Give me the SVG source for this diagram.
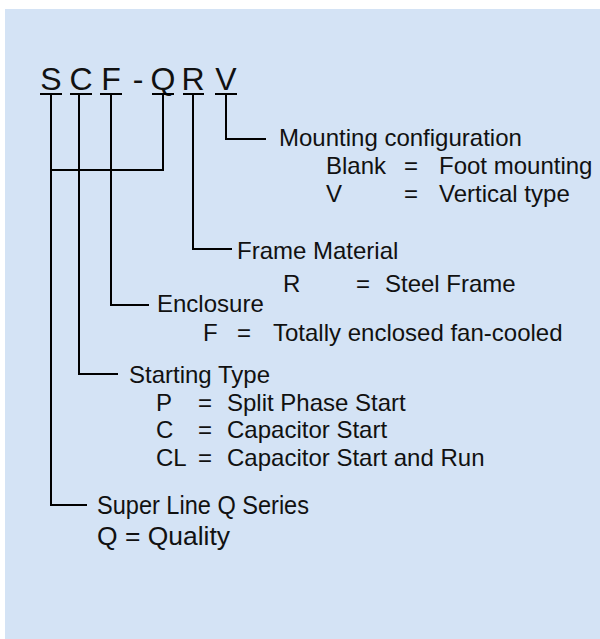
<svg xmlns="http://www.w3.org/2000/svg" width="600" height="639" viewBox="0 0 600 639">
<style>
.t{font-family:"Liberation Sans",Arial,sans-serif;font-size:24px;fill:#111}
.code{font-family:"Liberation Sans",Arial,sans-serif;font-size:32px;fill:#111;text-anchor:middle}
.big{font-family:"Liberation Sans",Arial,sans-serif;font-size:26px;fill:#111}
.ln{fill:none;stroke:#000;stroke-width:2}
</style>
<rect x="0" y="0" width="600" height="639" fill="#fff"/>
<rect x="5" y="9" width="595" height="630" fill="#d4e3f5"/>
<g id="code">
<text class="code" x="51" y="90">S</text>
<text class="code" x="81" y="90">C</text>
<text class="code" x="111" y="90">F</text>
<text class="code" x="138" y="90">-</text>
<text class="code" x="163" y="90">Q</text>
<text class="code" x="193" y="90">R</text>
<text class="code" x="226" y="90">V</text>
<g class="ln">
<line x1="40" y1="94" x2="62" y2="94"/>
<line x1="70" y1="94" x2="92" y2="94"/>
<line x1="100" y1="94" x2="122" y2="94"/>
<line x1="152" y1="94" x2="174" y2="94"/>
<line x1="183" y1="94" x2="204" y2="94"/>
<line x1="215" y1="94" x2="237" y2="94"/>
</g>
</g>
<g id="connectors" class="ln">
<path d="M226 94V139H266"/>
<path d="M193 94V249H232"/>
<path d="M163 94V170H51"/>
<path d="M111 94V305H149"/>
<path d="M79 94V374H118"/>
<path d="M51 94V505H87"/>
</g>
<g id="mounting">
<text class="t" x="279" y="146">Mounting configuration</text>
<text class="t" x="326" y="174">Blank</text>
<text class="t" x="404" y="174">=</text>
<text class="t" x="439" y="174">Foot mounting</text>
<text class="t" x="326" y="202">V</text>
<text class="t" x="404" y="202">=</text>
<text class="t" x="439" y="202">Vertical type</text>
</g>
<g id="frame">
<text class="t" x="237" y="259">Frame Material</text>
<text class="t" x="283" y="292">R</text>
<text class="t" x="356" y="292">=</text>
<text class="t" x="385" y="292">Steel Frame</text>
</g>
<g id="enclosure">
<text class="t" x="157" y="312">Enclosure</text>
<text class="t" x="203" y="341">F</text>
<text class="t" x="237" y="341">=</text>
<text class="t" x="273" y="341">Totally enclosed fan-cooled</text>
</g>
<g id="starting">
<text class="t" x="129" y="383">Starting Type</text>
<text class="t" x="156" y="411">P</text>
<text class="t" x="198" y="411">=</text>
<text class="t" x="227" y="411">Split Phase Start</text>
<text class="t" x="156" y="438">C</text>
<text class="t" x="198" y="438">=</text>
<text class="t" x="227" y="438">Capacitor Start</text>
<text class="t" x="156" y="466">CL</text>
<text class="t" x="198" y="466">=</text>
<text class="t" x="227" y="466">Capacitor Start and Run</text>
</g>
<g id="series">
<text class="big" x="97" y="514" textLength="212" lengthAdjust="spacingAndGlyphs">Super Line Q Series</text>
<text class="big" x="97" y="545" textLength="133" lengthAdjust="spacingAndGlyphs">Q = Quality</text>
</g>
</svg>
